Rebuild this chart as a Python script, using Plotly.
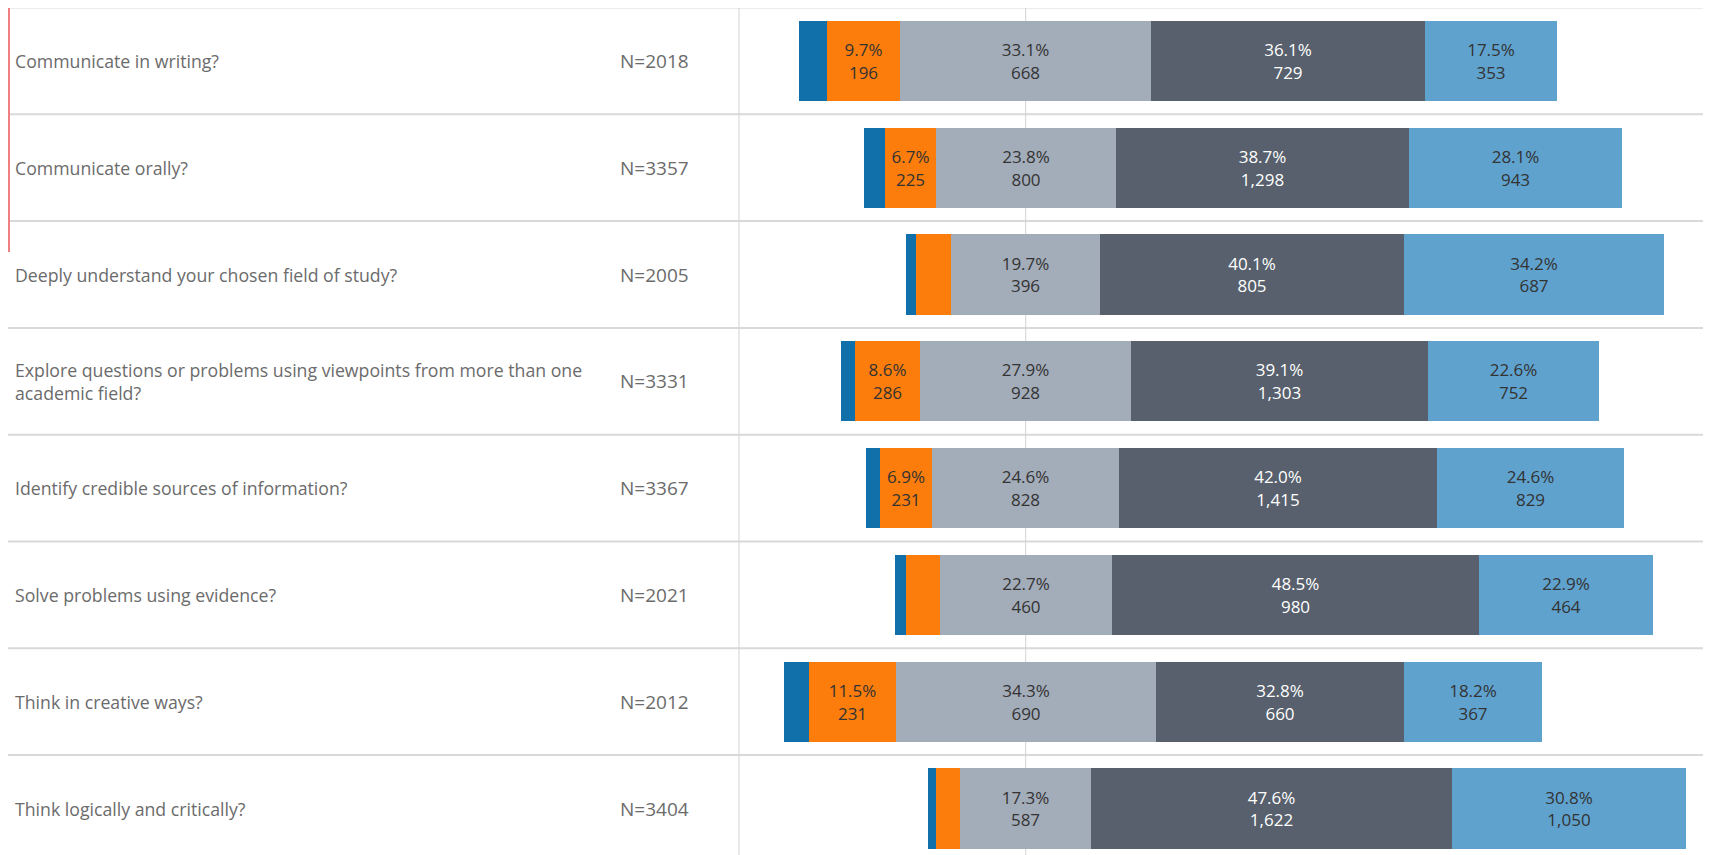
import plotly.graph_objects as go

questions = [
    "Communicate in writing?",
    "Communicate orally?",
    "Deeply understand your chosen field of study?",
    "Explore questions or problems using viewpoints from more than one<br>academic field?",
    "Identify credible sources of information?",
    "Solve problems using evidence?",
    "Think in creative ways?",
    "Think logically and critically?",
]
n_labels = ["N=2018", "N=3357", "N=2005", "N=3331", "N=3367", "N=2021", "N=2012", "N=3404"]

# percentages per response level
pct_very_little = [3.6, 2.7, 1.3, 1.8, 1.9, 1.4, 3.2, 1.1]
pct_little      = [9.7, 6.7, 4.6, 8.6, 6.9, 4.5, 11.5, 3.2]
pct_somewhat    = [33.1, 23.8, 19.7, 27.9, 24.6, 22.7, 34.3, 17.3]
pct_quite       = [36.1, 38.7, 40.1, 39.1, 42.0, 48.5, 32.8, 47.6]
pct_very_much   = [17.5, 28.1, 34.2, 22.6, 24.6, 22.9, 18.2, 30.8]

# counts per response level
cnt_very_little = [72, 91, 26, 62, 64, 28, 64, 37]
cnt_little      = [196, 225, 91, 286, 231, 89, 231, 108]
cnt_somewhat    = [668, 800, 396, 928, 828, 460, 690, 587]
cnt_quite       = [729, 1298, 805, 1303, 1415, 980, 660, 1622]
cnt_very_much   = [353, 943, 687, 752, 829, 464, 367, 1050]

# which little-segments carry a label
little_labeled = [True, True, False, True, True, False, True, False]

# page body has an 8px margin; size the figure so it ends at the window edge
OFF = 8
W, H = 1711 - OFF, 855 - OFF
yidx = list(range(len(questions)))

def lab(p, c):
    return f"{p:.1f}%<br>{c:,}"

base_vl = [-(a + b + s / 2) for a, b, s in zip(pct_very_little, pct_little, pct_somewhat)]
base_l = [-(b + s / 2) for b, s in zip(pct_little, pct_somewhat)]
base_s = [-s / 2 for s in pct_somewhat]
base_q = [s / 2 for s in pct_somewhat]
base_vm = [s / 2 + q for s, q in zip(pct_somewhat, pct_quite)]

dark_txt = "#333333"
FONT = "Open Sans"
traces = [
    ("Very little", pct_very_little, base_vl, "#1170aa", ["" for _ in yidx], dark_txt),
    ("Little", pct_little, base_l, "#fc7d0b",
     [lab(p, c) if f else "" for p, c, f in zip(pct_little, cnt_little, little_labeled)], dark_txt),
    ("Somewhat", pct_somewhat, base_s, "#a3acb9",
     [lab(p, c) for p, c in zip(pct_somewhat, cnt_somewhat)], dark_txt),
    ("Quite a bit", pct_quite, base_q, "#57606c",
     [lab(p, c) for p, c in zip(pct_quite, cnt_quite)], "#ffffff"),
    ("Very much", pct_very_much, base_vm, "#5fa2ce",
     [lab(p, c) for p, c in zip(pct_very_much, cnt_very_much)], dark_txt),
]

fig = go.Figure()
for name, vals, base, color, text, tcol in traces:
    fig.add_trace(go.Bar(
        y=yidx, x=vals, base=base, orientation="h", name=name,
        marker=dict(color=color, line=dict(width=0)),
        width=0.75,
        text=text, textposition="inside", insidetextanchor="middle",
        textfont=dict(family=FONT, size=17, color=tcol),
        hoverinfo="skip", showlegend=False,
    ))

# geometry (reference pixels -> data), shifted by body margin
top_px = 7.5 - OFF
row_h = 106.8
center_px = 1025.7 - OFF
px_per_pct = 7.58
y_top = -0.5 - top_px / row_h
y_bot = (H - top_px) / row_h - 0.5
x_left = -center_px / px_per_pct
x_right = (W - center_px) / px_per_pct

shapes = []
for i in range(len(questions) + 1):
    shapes.append(dict(type="line", xref="paper", yref="y", x0=0, x1=1,
                       y0=i - 0.5, y1=i - 0.5, line=dict(color="#d9d9d9", width=2), layer="below"))
shapes.append(dict(type="line", xref="paper", yref="y", x0=(739 - OFF) / W, x1=(739 - OFF) / W,
                   y0=-0.5, y1=len(questions) - 0.5, line=dict(color="#d3d3d3", width=1), layer="below"))
shapes.append(dict(type="line", xref="x", yref="y", x0=0, x1=0,
                   y0=-0.5, y1=len(questions) - 0.5, line=dict(color="#d3d3d3", width=1), layer="below"))
shapes.append(dict(type="line", xref="paper", yref="paper", x0=1 / W, x1=1 / W,
                   y0=1, y1=1 - (252 - OFF) / H, line=dict(color="#f08080", width=2)))

annotations = []
for i, (q, n) in enumerate(zip(questions, n_labels)):
    annotations.append(dict(xref="paper", yref="y", x=(13 - OFF) / W, y=i, text=q, showarrow=False,
                            xanchor="left", yanchor="middle", align="left",
                            font=dict(family=FONT, size=17.7, color="#6b6b6b")))
    annotations.append(dict(xref="paper", yref="y", x=(691 - OFF) / W, y=i, text=n, showarrow=False,
                            xanchor="right", yanchor="middle",
                            font=dict(family=FONT, size=19, color="#6b6b6b")))

fig.update_layout(
    width=W, height=H,
    margin=dict(l=0, r=0, t=0, b=0),
    paper_bgcolor="white", plot_bgcolor="white",
    barmode="overlay",
    bargap=0,
    uniformtext=dict(minsize=17, mode="show"),
    xaxis=dict(range=[x_left, x_right], domain=[0, 1], visible=False, fixedrange=True),
    yaxis=dict(range=[y_bot, y_top], visible=False, fixedrange=True),
    shapes=shapes, annotations=annotations,
)

fig.write_html("out.html")
